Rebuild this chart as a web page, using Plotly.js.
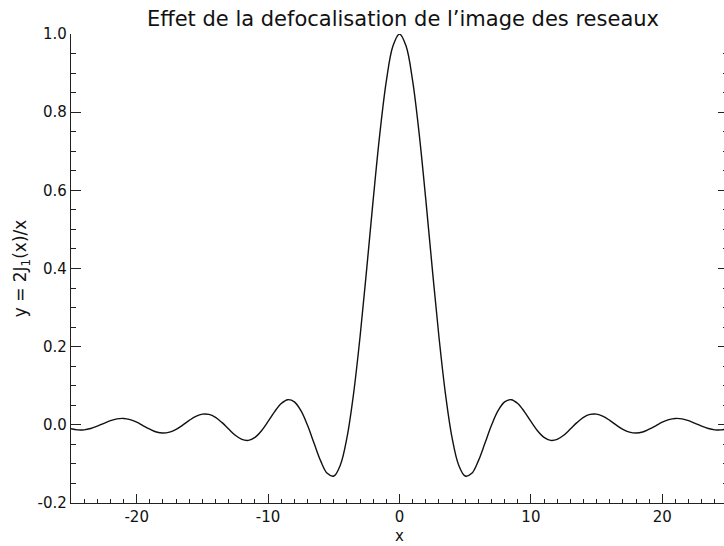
<!DOCTYPE html>
<html>
<head>
<meta charset="utf-8">
<script src="https://cdn.plot.ly/plotly-3.0.1.min.js"></script>
<style>
html,body{margin:0;padding:0;overflow:hidden;background:#fff;}
#chart{width:730px;height:546px;}
</style>
</head>
<body>
<div id="chart"></div>
<script>
const xVals = [-25,-24.5,-24,-23.5,-23,-22.5,-22,-21.5,-21,-20.5,-20,-19.5,-19,-18.5,-18,-17.5,-17,-16.5,-16,-15.5,-15,-14.5,-14,-13.5,-13,-12.5,-12,-11.5,-11,-10.5,-10,-9.5,-9,-8.5,-8,-7.5,-7,-6.5,-6,-5.5,-5,-4.5,-4,-3.5,-3,-2.5,-2,-1.5,-1,-0.5,
  0,0.5,1,1.5,2,2.5,3,3.5,4,4.5,5,5.5,6,6.5,7,7.5,8,8.5,9,9.5,10,10.5,11,11.5,12,12.5,13,13.5,14,14.5,15,15.5,16,16.5,17,17.5,18,18.5,19,19.5,20,20.5,21,21.5,22,22.5,23,23.5,24,24.5,25];
const yVals = [-0.0100,-0.0130,-0.0128,-0.0094,-0.0034,0.0038,0.0107,0.0152,0.0163,0.0133,0.0067,-0.0024,-0.0111,-0.0184,-0.0209,-0.0185,-0.0115,-0.0008,0.0113,0.0216,0.0273,0.0267,0.0191,0.0056,-0.0108,-0.0265,-0.0372,-0.0397,-0.0321,-0.0150,0.0087,0.0340,0.0545,0.0643,0.0587,0.0361,-0.0013,-0.0473,-0.0922,-0.1241,-0.1310,-0.1027,-0.0330,0.0785,0.2261,0.3977,0.5767,0.7439,0.8801,0.9692,
  1.0000,0.9692,0.8801,0.7439,0.5767,0.3977,0.2261,0.0785,-0.0330,-0.1027,-0.1310,-0.1241,-0.0922,-0.0473,-0.0013,0.0361,0.0587,0.0643,0.0545,0.0340,0.0087,-0.0150,-0.0321,-0.0397,-0.0372,-0.0265,-0.0108,0.0056,0.0191,0.0267,0.0273,0.0216,0.0113,-0.0008,-0.0115,-0.0185,-0.0209,-0.0184,-0.0111,-0.0024,0.0067,0.0133,0.0163,0.0152,0.0107,0.0038,-0.0034,-0.0094,-0.0128,-0.0130,-0.0100];
const xTicks = [-20,-10,0,10,20];
const yTicks = [-0.2,0.0,0.2,0.4,0.6,0.8,1.0];
const yTickText = ['-0.2','0.0','0.2','0.4','0.6','0.8','1.0'];
const titleText = "Effet de la defocalisation de l\u2019image des reseaux";
const xTitle = "x";
const yTitle = "y = 2J<sub>1</sub>(x)/x";

const font = "DejaVu Sans, sans-serif";
Plotly.newPlot('chart', [{
  x: xVals, y: yVals, type: 'scatter', mode: 'lines',
  line: {color: '#111', width: 1.4, shape: 'spline', smoothing: 1},
  hoverinfo: 'skip'
}], {
  width: 730, height: 546,
  margin: {l: 71, r: 2, t: 34, b: 43},
  paper_bgcolor: '#fff', plot_bgcolor: '#fff',
  showlegend: false,
  font: {family: font, color: '#111', size: 15},
  title: {text: titleText, font: {family: font, size: 21, color: '#111'}, x: 0.552, xanchor: 'center', y: 0.965, yanchor: 'middle'},
  xaxis: {
    range: [-25, 25], showgrid: false, zeroline: false,
    showline: true, linecolor: '#222', linewidth: 1.2, mirror: false,
    tickmode: 'array', tickvals: xTicks, ticktext: xTicks.map(String),
    ticks: 'inside', ticklen: 9, tickwidth: 1, tickcolor: '#222',
    tickfont: {family: font, size: 15, color: '#111'},
    minor: {dtick: 1, tick0: 0, ticks: 'inside', ticklen: 4, tickwidth: 1, tickcolor: '#222', showgrid: false},
    title: {text: xTitle, font: {family: font, size: 15, color: '#111'}, standoff: 5}
  },
  yaxis: {
    range: [-0.2, 1.0], showgrid: false, zeroline: false,
    showline: true, linecolor: '#222', linewidth: 1.2, mirror: 'ticks',
    tickmode: 'array', tickvals: yTicks, ticktext: yTickText,
    ticks: 'inside', ticklen: 10, tickwidth: 1, tickcolor: '#222',
    tickfont: {family: font, size: 15, color: '#111'},
    minor: {dtick: 0.05, tick0: 0, ticks: 'inside', ticklen: 5, tickwidth: 1, tickcolor: '#222', showgrid: false},
    title: {text: yTitle, font: {family: font, size: 17, color: '#111'}, standoff: 6}
  }
}, {staticPlot: true, displayModeBar: false});
</script>
</body>
</html>
